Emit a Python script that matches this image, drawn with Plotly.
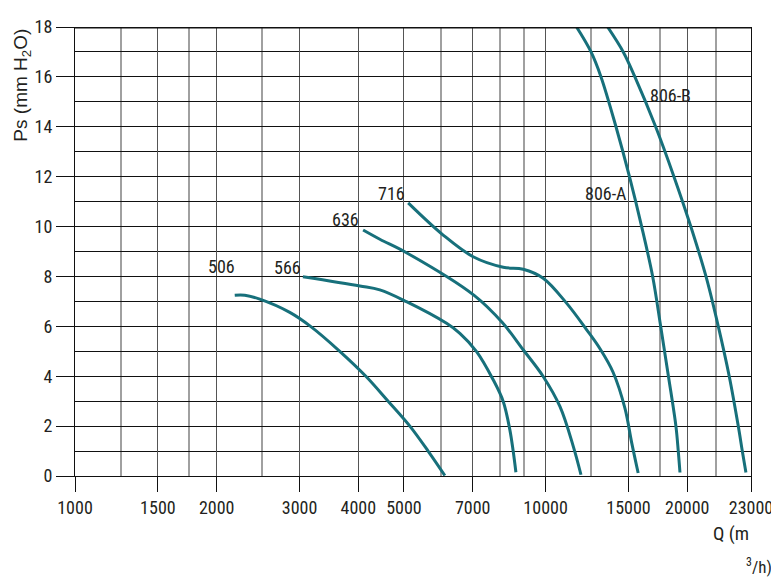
import math
import plotly.graph_objects as go

# ---- data (Q in m3/h, Ps in mm H2O) ----
q_506 = [2185, 2295, 2470, 2860, 3166, 3653, 4150, 4628, 5147, 5628, 6108]
p_506 = [7.25, 7.25, 7.09, 6.56, 6.00, 5.00, 4.00, 3.00, 2.00, 1.00, 0.02]

q_566 = [3050, 4030, 4444, 5063, 6160, 6574, 7134, 7738, 8128, 8396, 8533, 8648]
p_566 = [7.99, 7.62, 7.46, 6.99, 6.12, 5.72, 4.99, 3.86, 2.99, 1.85, 1.00, 0.15]

q_636 = [4095, 4444, 5063, 7050, 8100, 8963, 9883, 10725, 11450, 11890]
p_636 = [9.86, 9.49, 8.95, 7.24, 6.14, 5.06, 3.99, 2.79, 1.19, 0.05]

q_716 = [5105, 6058, 7015, 8128, 8963, 9883, 11080, 12227, 13050, 13920, 14750, 15230, 15730]
p_716 = [10.95, 9.66, 8.79, 8.37, 8.29, 7.93, 6.93, 5.86, 5.10, 4.15, 2.70, 1.36, 0.12]

q_806a = [11636, 12490, 13115, 14112, 15074, 16000, 16885, 17560, 18240, 18920, 19140, 19300]
p_806a = [18, 17, 16, 14, 12, 10, 8, 6, 4, 2, 1, 0.14]

q_806b = [13547, 14622, 15480, 17135, 18740, 20350, 21920, 23280, 24560, 25670, 26180, 26650]
p_806b = [18, 17, 16, 14, 12, 10, 8, 6, 4, 2, 1, 0.14]

series = [
    ("506", q_506, p_506),
    ("566", q_566, p_566),
    ("636", q_636, p_636),
    ("716", q_716, p_716),
    ("806-A", q_806a, p_806a),
    ("806-B", q_806b, p_806b),
]

# curve labels: name, Q, Ps
label_names = ["506", "566", "636", "716", "806-A", "806-B"]
label_q = [2050, 2830, 3763, 4710, 13450, 18450]
label_p = [8.38, 8.36, 10.3, 11.33, 11.33, 15.26]

# axes
x_end = 27320
x_tick_vals = [1000, 1500, 2000, 3000, 4000, 5000, 7000, 10000, 15000, 20000, x_end]
x_tick_text = ["1000", "1500", "2000", "3000", "4000", "5000", "7000", "10000", "15000", "20000", "23000"]
x_minor_vals = [1250, 1750, 2500, 6000, 8000, 9000, 12500, 17500, 23000]
y_tick_vals = [0, 2, 4, 6, 8, 10, 12, 14, 16, 18]
y_minor_vals = [1, 3, 5, 7, 9, 11, 13, 15, 17]

CURVE = "#17707b"
INK = "#231f20"
NARROW = ("Noto Sans ExtraCondensed, Noto Sans Condensed, Roboto Condensed, "
          "Liberation Sans Narrow, DejaVu Sans Condensed, sans-serif")

fig = go.Figure()
for name, q, p in series:
    fig.add_trace(go.Scatter(x=q, y=p, mode="lines", name=name,
                             line=dict(color=CURVE, width=3, shape="spline", smoothing=1.0),
                             hoverinfo="skip", showlegend=False))

for n, q, p in zip(label_names, label_q, label_p):
    fig.add_annotation(x=math.log10(q), y=p, text=n, showarrow=False,
                       font=dict(family=NARROW, size=18, color=INK),
                       xanchor="center", yanchor="middle")

fig.add_annotation(xref="paper", yref="paper", x=-0.078, y=0.87, text="Ps (mm H<sub>2</sub>O)",
                   textangle=-90, showarrow=False, xanchor="center", yanchor="middle",
                   font=dict(family="Liberation Sans, Arial, sans-serif", size=19, color=INK))
fig.add_annotation(xref="paper", yref="paper", x=1.0, y=-0.128, text="Q (m",
                   showarrow=False, xanchor="right", yanchor="middle",
                   font=dict(family=NARROW, size=19, color=INK))
fig.add_annotation(xref="paper", yref="paper", x=1.034, y=-0.1995, text="<sup>3</sup>/h)",
                   showarrow=False, xanchor="right", yanchor="middle",
                   font=dict(family=NARROW, size=17, color=INK))

# top border
fig.add_shape(type="line", xref="paper", yref="y", x0=0, x1=1, y0=18, y1=18,
              line=dict(color="#111", width=3))

fig.update_xaxes(type="log", range=[3, math.log10(x_end)],
                 tickmode="array", tickvals=x_tick_vals, ticktext=x_tick_text,
                 ticks="outside", ticklen=15, tickcolor="#111", tickwidth=1,
                 ticklabelstandoff=0,
                 showgrid=True, gridcolor="#555", gridwidth=1,
                 minor=dict(tickmode="array", tickvals=x_minor_vals, showgrid=True,
                            gridcolor="#a0a0a0", gridwidth=1.5, ticks=""),
                 showline=True, linecolor="#111", linewidth=1, zeroline=False,
                 tickfont=dict(family=NARROW, size=18, color=INK))
fig.update_yaxes(range=[0, 18], tickmode="array", tickvals=y_tick_vals,
                 ticks="outside", ticklen=18, tickcolor="#111", tickwidth=1,
                 showgrid=True, gridcolor="#111", gridwidth=1,
                 minor=dict(tickmode="array", tickvals=y_minor_vals, showgrid=True,
                            gridcolor="#111", gridwidth=1, ticks=""),
                 showline=True, mirror=True, linecolor="#111", linewidth=1, zeroline=False,
                 tickfont=dict(family=NARROW, size=18, color=INK))

# the page body has an 8px default margin, so the figure is sized to fit the window
fig.update_layout(width=771, height=577,
                  margin=dict(l=67, r=28, t=19, b=109, autoexpand=False),
                  paper_bgcolor="white", plot_bgcolor="white")

fig.write_html("out.html")
